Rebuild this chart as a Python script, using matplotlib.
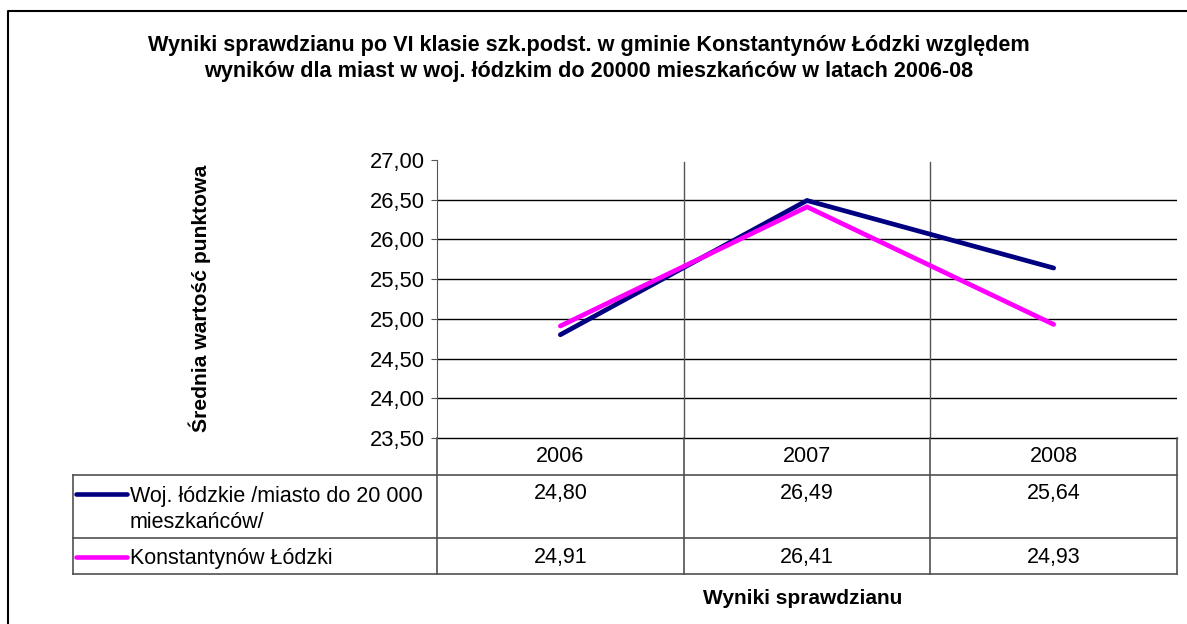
import numpy as np
import matplotlib.pyplot as plt
from matplotlib.lines import Line2D

plt.rcParams['font.family'] = ['Liberation Sans', 'DejaVu Sans']

# data
years = ['2006', '2007', '2008']
woj = [24.80, 26.49, 25.64]
konst = [24.91, 26.41, 24.93]
series_names = ['Woj. łódzkie /miasto do 20 000\nmieszkańców/', 'Konstantynów Łódzki']
series_colors = ['#000080', '#FF00FF']

W, H = 1187, 624
fig = plt.figure(figsize=(W / 100, H / 100), dpi=100)

# pixel helper for axes placement
def px_rect(x0, y0, x1, y1):
    return [x0 / W, 1 - y1 / H, (x1 - x0) / W, (y1 - y0) / H]

# background / table layer
bg = fig.add_axes([0, 0, 1, 1])
bg.set_xlim(0, W)
bg.set_ylim(H, 0)
bg.axis('off')

# outer chart border (right/bottom run off the image)
bg.plot([8, 8, W + 5], [H + 5, 11, 11], color='black', lw=1.5, solid_capstyle='butt')

# plot area
x0, x1, y0, y1 = 437, 1177, 160, 438
ax = fig.add_axes(px_rect(x0, y0, x1, y1))
x = np.arange(len(years))
for vals, c in zip([woj, konst], series_colors):
    ax.plot(x, vals, color=c, lw=3.4, solid_capstyle='round', solid_joinstyle='miter', zorder=3)

ax.set_xlim(-0.5, len(years) - 0.5)
ax.set_ylim(23.5, 27.0)
yt = np.arange(23.5, 27.01, 0.5)
ax.set_yticks(yt)
ax.set_yticklabels([f'{v:.2f}'.replace('.', ',') for v in yt], fontsize=15.8)
ax.set_xticks([])
for v in yt[1:-1]:
    ax.axhline(v, color='black', lw=1.0, zorder=1)
for b in np.arange(0.5, len(years) - 0.5, 1):
    ax.axvline(b, ymax=0.993, color='#555555', lw=1.0, zorder=1)
for s in ['top', 'right', 'bottom']:
    ax.spines[s].set_visible(False)
ax.spines['left'].set_color('#555555')
ax.tick_params(axis='y', length=4, color='#555555', pad=5)
ax.patch.set_alpha(0)

# data table
col_w = (x1 - x0) / len(years)
cols = [x0 + i * col_w for i in range(len(years) + 1)]
gray = '#505050'
hdr_top, row1_top, row2_top, tbl_bot = 438, 475, 538, 574
tbl_left = 73
bg.plot([x0, x1], [hdr_top, hdr_top], color='black', lw=1.0)
for cx in cols:
    bg.plot([cx, cx], [hdr_top, tbl_bot], color=gray, lw=1.2)
for yy in [row1_top, row2_top, tbl_bot]:
    bg.plot([tbl_left, x1], [yy, yy], color=gray, lw=1.2)
bg.plot([tbl_left, tbl_left], [row1_top, tbl_bot], color=gray, lw=1.2)

fs = 15.5
for i, yr in enumerate(years):
    cxm = (cols[i] + cols[i + 1]) / 2
    bg.text(cxm, 457, yr, ha='center', va='center', fontsize=fs)
    bg.text(cxm, 494, f'{woj[i]:.2f}'.replace('.', ','), ha='center', va='center', fontsize=fs)
    bg.text(cxm, 557, f'{konst[i]:.2f}'.replace('.', ','), ha='center', va='center', fontsize=fs)

line_y = [494, 557]
label_top = [486, 548]
for name, c, ly, lt in zip(series_names, series_colors, line_y, label_top):
    bg.add_line(Line2D([76, 127], [ly, ly], color=c, lw=3.3, solid_capstyle='round'))
    bg.text(130, lt, name, ha='left', va='top', fontsize=fs, linespacing=1.33)

# titles
bg.text(589, 45, 'Wyniki sprawdzianu po VI klasie szk.podst. w gminie Konstantynów Łódzki względem',
        ha='center', va='center', fontsize=15.6, fontweight='bold')
bg.text(589, 72, 'wyników dla miast w woj. łódzkim do 20000 mieszkańców w latach 2006-08',
        ha='center', va='center', fontsize=15.6, fontweight='bold')
bg.text(803, 599, 'Wyniki sprawdzianu', ha='center', va='center', fontsize=15, fontweight='bold')
bg.text(200, 298, 'Średnia wartość punktowa', ha='center', va='center', rotation=90,
        fontsize=15.2, fontweight='bold')

fig.savefig('out.png', dpi=100)
